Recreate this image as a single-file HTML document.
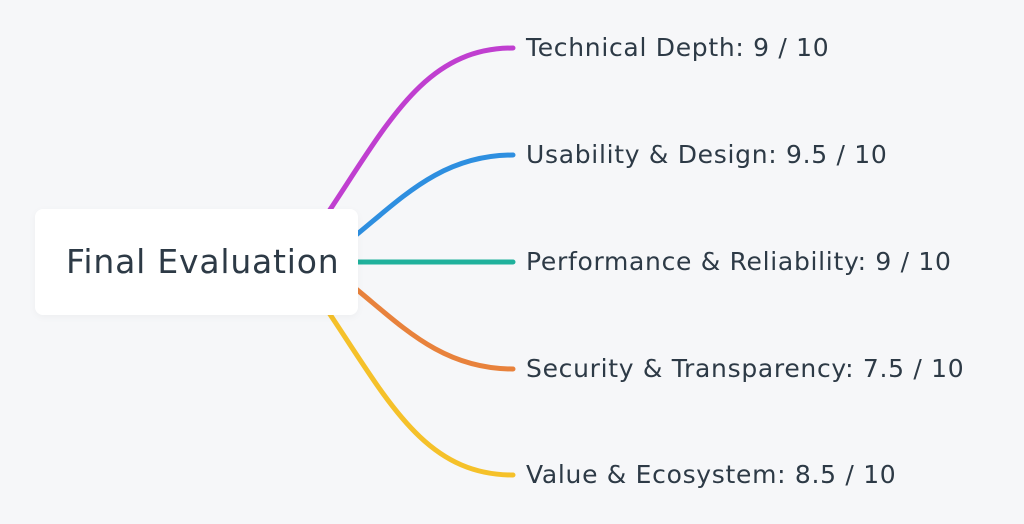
<!DOCTYPE html>
<html><head><meta charset="utf-8"><style>
body{margin:0;width:1024px;height:524px;background:#f6f7f9;position:relative;overflow:hidden;font-family:"DejaVu Sans","Liberation Sans",sans-serif;color:#2d3a46}
.box{position:absolute;left:35px;top:209px;width:323px;height:106px;background:#fff;border-radius:8px;box-shadow:0 2px 8px rgba(0,0,0,0.04)}
.box span{position:absolute;left:31px;top:33px;font-size:33px;letter-spacing:0.8px}
.l{position:absolute;left:526px;font-size:25px;letter-spacing:0.7px;white-space:nowrap}
svg{position:absolute;left:0;top:0}
</style></head><body>
<svg width="1024" height="524">
<g fill="none" stroke-width="5" stroke-linecap="round">
<path d="M315 232 C385 130,420 48,513 48" stroke="#c03fd0"/>
<path d="M350 240 C400 200,440 155,513 155" stroke="#2e8fe0"/>
<path d="M350 262 L513 262" stroke="#1fb19c"/>
<path d="M350 284 C400 324,440 369,513 369" stroke="#e8823c"/>
<path d="M315 292 C385 394,420 475,513 475" stroke="#f5c12a"/>
</g></svg>
<div class="box"><span>Final Evaluation</span></div>
<div class="l" style="top:33px">Technical Depth: 9 / 10</div>
<div class="l" style="top:140px">Usability &amp; Design: 9.5 / 10</div>
<div class="l" style="top:247px">Performance &amp; Reliability: 9 / 10</div>
<div class="l" style="top:354px">Security &amp; Transparency: 7.5 / 10</div>
<div class="l" style="top:460px">Value &amp; Ecosystem: 8.5 / 10</div>
</body></html>
